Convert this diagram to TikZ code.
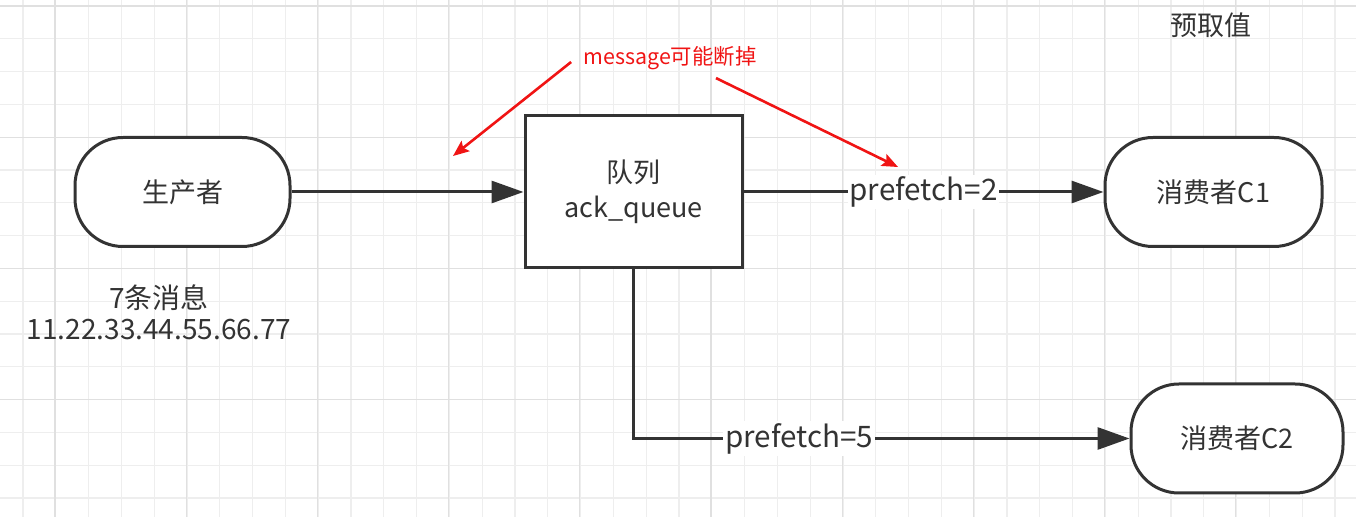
\documentclass[tikz,border=0pt]{standalone}
\usepackage{fontspec}
\setmainfont{Noto Sans CJK SC}
\usetikzlibrary{arrows.meta}
\definecolor{ink}{HTML}{333333}
\definecolor{warn}{HTML}{F01414}
\definecolor{minorgrid}{HTML}{EEEEEE}
\definecolor{majorgrid}{HTML}{E0E0E0}

\begin{document}
\begin{tikzpicture}[x=0.5pt, y=-0.5pt,
    txt/.style={text=ink, inner sep=0pt, font=\fontsize{13.5}{17.5}\selectfont},
    box/.style={txt, draw=ink, line width=1.5pt, fill=white},
    term/.style={box, rounded corners=24pt, minimum height=54.5pt},
    flow/.style={draw=ink, line width=1.5pt, -{Triangle[length=16pt,width=11pt]}},
    tag/.style={txt, fill=white, inner sep=1pt, font=\fontsize{14.8}{17}\selectfont},
    alarm/.style={draw=warn, line width=1.3pt, -{Stealth[length=8pt,width=6.5pt,inset=1.5pt]}}]
      \useasboundingbox (0,0) rectangle (1356,517);

      % Grid
      \foreach \i in {0,...,40}
        \draw[minorgrid, line width=0.6pt] ({23+32.8*\i},0) -- ({23+32.8*\i},517);
      \foreach \j in {0,...,15}
        \draw[minorgrid, line width=0.6pt] (0,{6+32.8*\j}) -- (1356,{6+32.8*\j});
      \foreach \i in {0,...,9}
        \draw[majorgrid, line width=0.6pt] ({55+131.2*\i},0) -- ({55+131.2*\i},517);
      \foreach \j in {0,...,3}
        \draw[majorgrid, line width=0.6pt] (0,{6+131.2*\j}) -- (1356,{6+131.2*\j});

      % Nodes
      \node[term, minimum width=107.5pt] (P) at (182.5,192) {生产者};
      \node[box, minimum width=108.5pt, minimum height=76pt, align=center] (Q) at (633.5,192) {队列\\ack\_queue};
      \node[term, minimum width=108.5pt] (C1) at (1213.5,192) {消费者C1};
      \node[term, minimum width=106pt] (C2) at (1237,438.5) {消费者C2};

      % Texts
      \node[txt, align=center, font=\fontsize{14}{15.5}\selectfont] (N) at (159,312) {7条消息\\11.22.33.44.55.66.77};
      \node[txt] (V) at (1211,25) {预取值};
      \node[txt, text=warn, font=\fontsize{10.7}{12}\selectfont] (M) at (670,58) {message可能断掉};
      \coordinate (L) at (453,156);
      \coordinate (R) at (898,167);

      % Arrows
      \draw[flow] (P) -- (Q);
      \draw[flow] (Q) -- node[tag] {prefetch=2} (C1);
      \draw[flow] (Q.south) |- node[tag, pos=0.667] {prefetch=5} (C2);
      \draw[alarm] ([xshift=-6pt, yshift=-2pt]M.west) -- (L);
      \draw[alarm] ([xshift=23pt, yshift=-4pt]M.south) -- (R);
    \end{tikzpicture}
\end{document}
